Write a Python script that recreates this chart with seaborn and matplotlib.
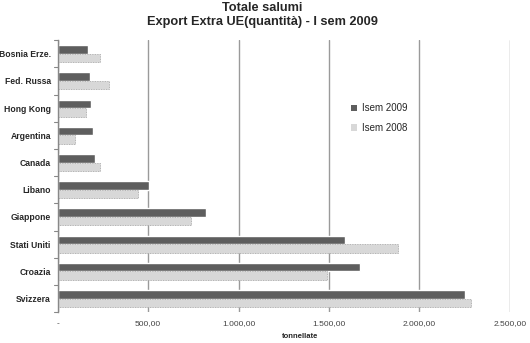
import matplotlib
matplotlib.use("Agg")
import matplotlib.pyplot as plt
import seaborn as sns
import pandas as pd
from matplotlib.patches import Patch
from matplotlib.ticker import FuncFormatter

categories = ["Bosnia Erze.", "Fed. Russa", "Hong Kong", "Argentina", "Canada",
              "Libano", "Giappone", "Stati Uniti", "Croazia", "Svizzera"]
sem_2009 = [166, 177, 182, 195, 208, 503, 818, 1589, 1672, 2252]
sem_2008 = [236, 282, 155, 94, 232, 442, 739, 1880, 1490, 2287]
series = ["Isem 2009", "Isem 2008"]
colors = ["#5e5e5e", "#d8d8d8"]

df = pd.DataFrame({
    "paese": categories * 2,
    "valore": sem_2009 + sem_2008,
    "serie": [series[0]] * len(categories) + [series[1]] * len(categories),
})

sns.set_theme(style="white")
plt.rcParams["font.family"] = ["Liberation Sans", "DejaVu Sans"]

fig = plt.figure(figsize=(5.30, 3.43), dpi=100)
ax = fig.add_axes([0.109, 0.090, 0.853, 0.793])

sns.barplot(data=df, x="valore", y="paese", hue="serie", order=categories,
            hue_order=series, palette=colors, orient="h", width=0.62, gap=0,
            ax=ax, legend=False, saturation=1)

for i, p in enumerate(ax.patches):
    if i >= len(categories):
        p.set_edgecolor("#a0a0a0")
        p.set_linewidth(0.6)
        p.set_linestyle((0, (1, 1)))

ax.set_xlim(0, 2500)
ax.set_xticks([0, 500, 1000, 1500, 2000, 2500])
ax.xaxis.set_major_formatter(FuncFormatter(
    lambda v, _: "-" if v == 0 else f"{v:,.2f}".replace(",", "X").replace(".", ",").replace("X", ".")))
ax.tick_params(axis="x", labelsize=6, length=0, pad=6, colors="#444444")
ax.tick_params(axis="y", labelsize=6.2, length=0, pad=5)
for t in ax.get_yticklabels():
    t.set_fontweight("bold")

# group separator ticks on the y axis
for k in range(len(categories) + 1):
    ax.plot([-0.008, 0], [k - 0.5, k - 0.5], transform=ax.get_yaxis_transform(),
            color="#888888", lw=0.8, clip_on=False)

ax.grid(axis="x", color="#9a9a9a", lw=1)
ax.set_axisbelow(True)
for s in ["top", "right", "bottom"]:
    ax.spines[s].set_visible(False)
ax.spines["left"].set_color("#888888")
ax.spines["left"].set_linewidth(1)
ax.set_ylim(len(categories) - 0.5, -0.5)

ax.set_ylabel("")
ax.set_xlabel("tonnellate", fontsize=5.5, fontweight="bold")
ax.xaxis.set_label_coords(0.535, -0.075)

fig.suptitle("Totale salumi\nExport Extra UE(quantità) - I sem 2009",
             fontsize=9.2, fontweight="bold", y=0.995, x=0.495, linespacing=1.3)

handles = [Patch(facecolor=c, edgecolor="none") for c in colors]
ax.legend(handles, series, loc="upper left", bbox_to_anchor=(0.63, 0.80),
          frameon=False, handlelength=0.6, handleheight=0.6,
          handletextpad=0.5, labelspacing=1.0,
          prop={"family": ["Liberation Sans", "DejaVu Sans"], "size": 7})

fig.savefig("out.png", dpi=100)
